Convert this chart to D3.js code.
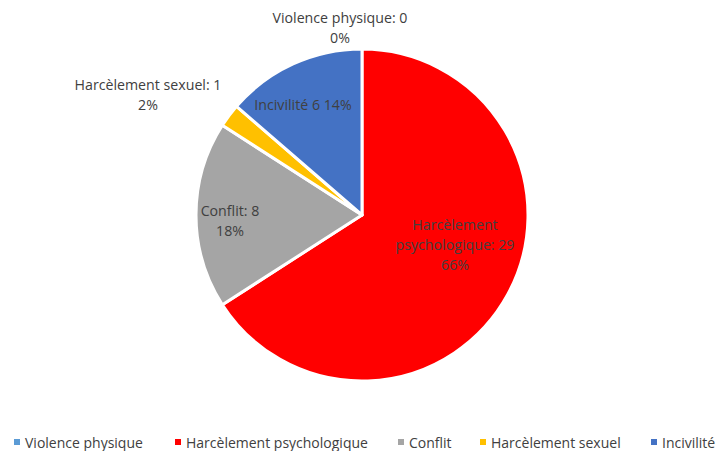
<!DOCTYPE html>
<html><head><meta charset="utf-8">
<script src="https://cdn.jsdelivr.net/npm/d3@7"></script>
<style>body{margin:0;background:#fff}svg{display:block}text{font-family:"Open Sans",sans-serif}</style>
</head><body><svg id="c" width="719" height="451"></svg>
<script>
const categories = ["Violence physique","Harcèlement psychologique","Conflit","Harcèlement sexuel","Incivilité"];
const values = [0, 29, 8, 1, 6];
const colors = ["#5B9BD5","#FF0000","#A5A5A5","#FFC000","#4472C4"];
const labelLines = [
  ["Violence physique: 0","0%"],
  ["Harcèlement","psychologique: 29","66%"],
  ["Conflit: 8","18%"],
  ["Harcèlement sexuel: 1","2%"],
  ["Incivilité 6 14%"]
];
// label anchor positions (layout)
const labelPos = [[340,23],[455,230],[230,216],[148,90],[303,110]];
const legendX = [14,175,398,480,651];

const svg = d3.select("#c");
const cx = 362, cy = 215, R = 166;
const pie = d3.pie().sort(null).value(d=>d)(values);
const arc = d3.arc().innerRadius(0).outerRadius(R);
const g = svg.append("g").attr("transform",`translate(${cx},${cy})`);
g.selectAll("path").data(pie).join("path")
  .attr("d",arc).attr("fill",(d,i)=>colors[i])
  .attr("stroke","#fff").attr("stroke-width",3).attr("stroke-linejoin","round");

labelPos.forEach((p,i)=>{
  const t = svg.append("text").attr("x",p[0]).attr("y",p[1]).attr("text-anchor","middle")
    .attr("font-size",14.2).attr("fill","#404040");
  labelLines[i].forEach((l,j)=>t.append("tspan").attr("x",p[0]).attr("dy",j?20:0).text(l));
});

categories.forEach((c,i)=>{
  svg.append("rect").attr("x",legendX[i]).attr("y",439).attr("width",6).attr("height",6).attr("fill",colors[i]);
  svg.append("text").attr("x",legendX[i]+11).attr("y",448).attr("font-size",14).attr("fill","#404040").text(c);
});
</script></body></html>
